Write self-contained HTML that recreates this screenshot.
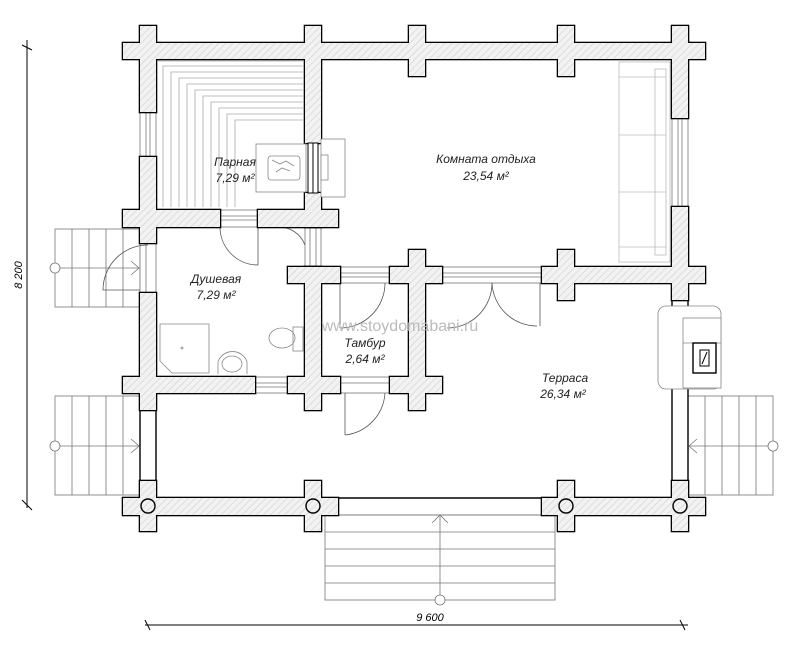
<!DOCTYPE html>
<html><head><meta charset="utf-8"><style>body{margin:0;background:#fff}svg{display:block}text{font-family:"Liberation Sans",sans-serif;font-style:italic}</style></head><body>
<svg width="800" height="654" viewBox="0 0 800 654" xmlns="http://www.w3.org/2000/svg">
<defs><pattern id="h" width="5" height="5" patternUnits="userSpaceOnUse" patternTransform="rotate(45)"><rect width="5" height="5" fill="#f2f2f2"/><line x1="0" y1="0" x2="0" y2="5" stroke="#cfcfcf" stroke-width="1.2"/></pattern>
<g id="w">
<rect x="123" y="43" width="582" height="16"/>
<rect x="140" y="26" width="16" height="86"/><rect x="305" y="26" width="16" height="117"/><rect x="409" y="26" width="16" height="50"/><rect x="558" y="26" width="16" height="50"/><rect x="672" y="26" width="16" height="92"/>
<rect x="140" y="157" width="16" height="86"/><rect x="123" y="210" width="97" height="17"/><rect x="258" y="210" width="80" height="17"/><rect x="305" y="193" width="16" height="34"/>
<rect x="140" y="293" width="16" height="117"/><rect x="123" y="377" width="132" height="16"/>
<rect x="288" y="267" width="52" height="16"/><rect x="305" y="267" width="16" height="143"/><rect x="288" y="377" width="52" height="16"/>
<rect x="390" y="267" width="52" height="16"/><rect x="409" y="250" width="16" height="160"/><rect x="390" y="377" width="52" height="16"/>
<rect x="542" y="267" width="163" height="16"/><rect x="558" y="250" width="16" height="50"/><rect x="672" y="207" width="16" height="93"/>
<rect x="123" y="498" width="215" height="17"/><rect x="542" y="498" width="163" height="17"/>
<rect x="140" y="481" width="16" height="50"/><rect x="305" y="481" width="16" height="50"/><rect x="558" y="481" width="16" height="50"/><rect x="672" y="481" width="16" height="50"/>
</g></defs>
<!-- dimensions -->
<g stroke="#000" stroke-width="1"><line x1="27" y1="40" x2="27" y2="508"/><line x1="22" y1="45" x2="32" y2="50"/><line x1="22" y1="500" x2="32" y2="510"/>
<line x1="145" y1="625" x2="688" y2="625"/><line x1="145" y1="620" x2="150" y2="630"/><line x1="680" y1="620" x2="685" y2="630"/></g>
<text x="22" y="275" font-size="11" transform="rotate(-90 22 275)" text-anchor="middle">8 200</text>
<text x="430" y="621" font-size="11" text-anchor="middle">9 600</text>
<!-- stairs -->
<g stroke="#777" stroke-width="0.8" fill="none">
<rect x="55" y="229" width="85" height="78"/><line x1="72" y1="229" x2="72" y2="307"/><line x1="89" y1="229" x2="89" y2="307"/><line x1="106" y1="229" x2="106" y2="307"/><line x1="123" y1="229" x2="123" y2="307"/><circle cx="55" cy="268" r="5" fill="#fff"/><line x1="60" y1="268" x2="139" y2="268"/><polyline points="131,261 139,268 131,275"/>
<rect x="55" y="396" width="85" height="99"/><line x1="72" y1="396" x2="72" y2="495"/><line x1="89" y1="396" x2="89" y2="495"/><line x1="106" y1="396" x2="106" y2="495"/><line x1="123" y1="396" x2="123" y2="495"/><circle cx="55" cy="446" r="5" fill="#fff"/><line x1="60" y1="446" x2="139" y2="446"/><polyline points="131,439 139,446 131,453"/>
<rect x="688" y="396" width="85" height="99"/><line x1="705" y1="396" x2="705" y2="495"/><line x1="722" y1="396" x2="722" y2="495"/><line x1="739" y1="396" x2="739" y2="495"/><line x1="756" y1="396" x2="756" y2="495"/><circle cx="773" cy="446" r="5" fill="#fff"/><line x1="689" y1="446" x2="768" y2="446"/><polyline points="697,439 689,446 697,453"/>
<rect x="325" y="515" width="230" height="85"/><line x1="325" y1="532" x2="555" y2="532"/><line x1="325" y1="549" x2="555" y2="549"/><line x1="325" y1="566" x2="555" y2="566"/><line x1="325" y1="583" x2="555" y2="583"/><circle cx="440" cy="600" r="5" fill="#fff"/><line x1="440" y1="516" x2="440" y2="595"/><polyline points="432,523 440,515 448,523"/>
</g>
<!-- thin openings / windows -->
<g stroke="#777" stroke-width="0.8" fill="#fff">
<rect x="140" y="112" width="16" height="45"/><line x1="146" y1="112" x2="146" y2="157"/><line x1="150" y1="112" x2="150" y2="157"/>
<rect x="140" y="243" width="16" height="50"/><line x1="146" y1="243" x2="146" y2="293"/>
<rect x="220" y="210" width="38" height="17"/><line x1="220" y1="216" x2="258" y2="216"/><line x1="220" y1="220" x2="258" y2="220"/>
<rect x="305" y="227" width="16" height="40"/><line x1="310" y1="227" x2="310" y2="267"/><line x1="316" y1="227" x2="316" y2="267"/>
<rect x="255" y="377" width="33" height="16"/><line x1="255" y1="383" x2="288" y2="383"/><line x1="255" y1="387" x2="288" y2="387"/>
<rect x="340" y="267" width="50" height="16"/><line x1="340" y1="273" x2="390" y2="273"/><line x1="340" y1="277" x2="390" y2="277"/>
<rect x="340" y="377" width="50" height="16"/><line x1="340" y1="383" x2="390" y2="383"/>
<rect x="442" y="267" width="100" height="16"/><line x1="442" y1="273" x2="542" y2="273"/><line x1="442" y1="277" x2="542" y2="277"/>
<rect x="672" y="118" width="16" height="89"/><line x1="678" y1="118" x2="678" y2="207"/><line x1="682" y1="118" x2="682" y2="207"/>
</g>
<g stroke="#000" stroke-width="1.4" fill="#fff">
<rect x="140" y="410" width="16" height="71"/><rect x="672" y="300" width="16" height="181"/>
<line x1="338" y1="498" x2="542" y2="498"/><line x1="338" y1="515" x2="542" y2="515" stroke="#777" stroke-width="0.8"/>
</g>
<!-- door swings -->
<g stroke="#555" stroke-width="0.8" fill="none">
<path d="M220,227 A38,38 0 0 0 258,265 L258,227"/>
<path d="M305,245 A28,28 0 0 0 277,227"/><path d="M277,227 L305,227"/>
<path d="M148,245 A45,45 0 0 0 103,290 L140,290"/>
<path d="M385,283 A45,45 0 0 1 340,328"/><line x1="340" y1="283" x2="340" y2="328"/>
<path d="M385,393 A45,45 0 0 1 345,435"/><line x1="345" y1="393" x2="345" y2="435"/>
<path d="M492,283 A45,45 0 0 1 447,328"/><path d="M492,283 A45,45 0 0 0 537,326"/><line x1="540" y1="283" x2="540" y2="326"/>
</g>
<!-- walls -->
<use href="#w" stroke="#000" stroke-width="2.6" fill="url(#h)"/>
<use href="#w" stroke="none" fill="url(#h)"/>
<g stroke="#000" stroke-width="1.4" fill="none"><circle cx="148" cy="506" r="7"/><circle cx="313" cy="506" r="7"/><circle cx="566" cy="506" r="7"/><circle cx="680" cy="506" r="7"/></g>
<!-- bench -->
<g stroke="#aaa" stroke-width="0.8" fill="none">
<path d="M158,61 H303"/><path d="M163,207 V66 H303"/><path d="M171,207 V72 H303"/><path d="M179,207 V78 H303"/><path d="M187,207 V84 H303"/><path d="M195,207 V90 H303"/><path d="M203,207 V96 H303"/><path d="M211,207 V102 H303"/><path d="M219,207 V108 H303"/><path d="M227,207 V114 H303"/><path d="M235,207 V120 H303"/>
</g>
<!-- stove sauna -->
<g stroke="#888" stroke-width="0.8" fill="#fff">
<rect x="256" y="144" width="50" height="48"/><rect x="268" y="156" width="32" height="24" rx="3"/><path d="M272,160 l8,4 l6,-3 l8,5 M276,172 l6,-4 l8,3" fill="none"/>
<rect x="321" y="139" width="24" height="58"/><rect x="321" y="155" width="7" height="25"/>
</g>
<g stroke="#000" stroke-width="1" fill="#fff"><rect x="308" y="143" width="10" height="50"/><line x1="313" y1="143" x2="313" y2="193"/></g>
<!-- sofa -->
<g stroke="#bbb" stroke-width="0.8" fill="none"><rect x="619" y="62" width="51" height="200"/><rect x="655" y="69" width="11" height="186"/><line x1="619" y1="77" x2="666" y2="77"/><line x1="619" y1="135" x2="666" y2="135"/><line x1="619" y1="192" x2="666" y2="192"/><line x1="619" y1="247" x2="666" y2="247"/></g>
<!-- terrace stove -->
<g stroke="#888" stroke-width="0.8" fill="#fff"><rect x="658" y="306" width="63" height="83" rx="8"/><rect x="683" y="318" width="38" height="70"/><line x1="683" y1="343" x2="721" y2="343"/></g>
<rect x="693" y="343" width="23" height="30" fill="#fff" stroke="#000" stroke-width="1.4"/><rect x="700" y="350" width="9" height="16" fill="none" stroke="#000"/><line x1="702" y1="364" x2="707" y2="352" stroke="#000"/>
<!-- bathroom fixtures -->
<g stroke="#888" stroke-width="0.8" fill="none"><path d="M160,324 H209 V373 H172 L160,361 Z"/><circle cx="182" cy="348" r="1"/>
<path d="M218,374 V362 A15,14 0 0 1 247,362 V374"/><ellipse cx="232" cy="364" rx="10" ry="8"/>
<ellipse cx="282" cy="338" rx="13" ry="10"/><rect x="293" y="327" width="10" height="24"/></g>
<!-- labels -->
<g font-size="12" fill="#222" text-anchor="middle">
<text x="235" y="166">Парная</text><text x="235" y="182">7,29 м²</text>
<text x="216" y="283">Душевая</text><text x="216" y="299">7,29 м²</text>
<text x="486" y="163">Комната отдыха</text><text x="486" y="180">23,54 м²</text>
<text x="365" y="347">Тамбур</text><text x="365" y="363">2,64 м²</text>
<text x="565" y="382">Терраса</text><text x="563" y="398">26,34 м²</text>
</g>
<text x="400" y="331" font-size="16" fill="#bbb" text-anchor="middle" style="font-style:normal">www.stoydomabani.ru</text>
</svg>
</body></html>
